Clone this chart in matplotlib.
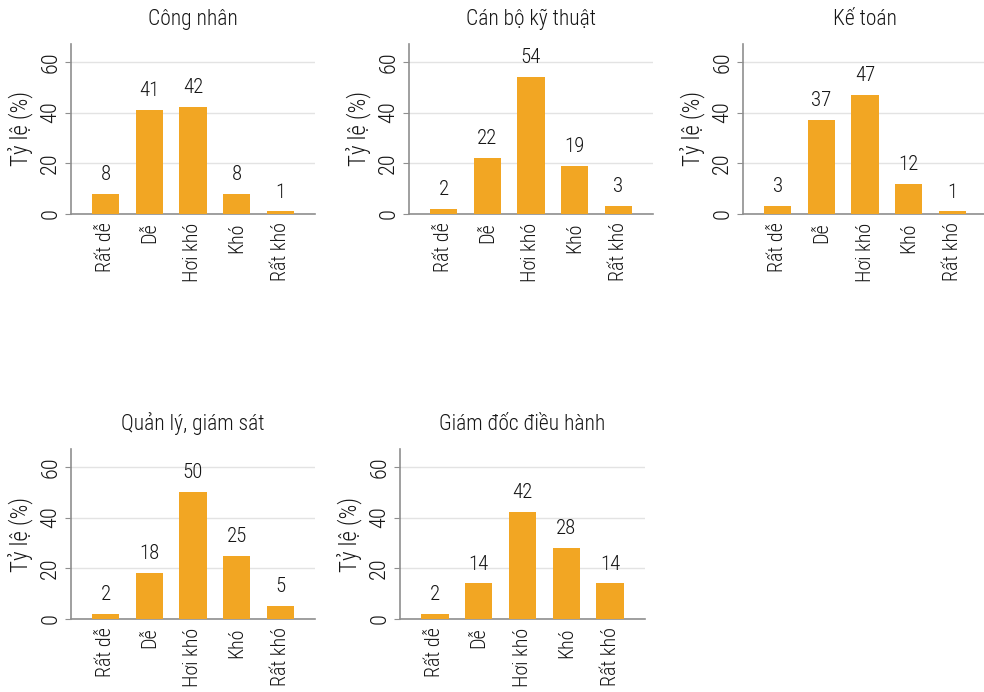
import matplotlib
matplotlib.use("Agg")
import matplotlib.pyplot as plt

plt.rcParams["font.family"] = ["Roboto Condensed", "Liberation Sans Narrow", "Roboto", "DejaVu Sans"]

categories = ["Rất dễ", "Dễ", "Hơi khó", "Khó", "Rất khó"]
titles = ["Công nhân", "Cán bộ kỹ thuật", "Kế toán", "Quản lý, giám sát", "Giám đốc điều hành"]
cong_nhan = [8, 41, 42, 8, 1]
can_bo_ky_thuat = [2, 22, 54, 19, 3]
ke_toan = [3, 37, 47, 12, 1]
quan_ly_giam_sat = [2, 18, 50, 25, 5]
giam_doc_dieu_hanh = [2, 14, 42, 28, 14]
series = [cong_nhan, can_bo_ky_thuat, ke_toan, quan_ly_giam_sat, giam_doc_dieu_hanh]
y_ticks = [0, 20, 40, 60]

W, H = 984, 692
fig = plt.figure(figsize=(W / 100, H / 100), dpi=100)

# panel boxes in pixels: (left, top, right, bottom)
boxes = [
    (71, 44, 315, 214),
    (409, 44, 653, 214),
    (743, 44, 987, 214),
    (71, 449, 315, 619),
    (400, 449, 645, 619),
]

bar_color = "#F2A623"
spine_color = "#8f8f8f"
text_color = "#161616"
wt = "light"

for (l, t, r, b), title, vals in zip(boxes, titles, series):
    ax = fig.add_axes([l / W, 1 - b / H, (r - l) / W, (b - t) / H])
    x = range(len(categories))
    ax.bar(x, vals, width=0.62, color=bar_color, zorder=3)
    for xi, v in zip(x, vals):
        ax.text(xi, v + 5.5, f"{v}", ha="center", va="baseline", fontsize=15,
                color=text_color, fontweight=wt)
    ax.set_xlim(-0.8, 4.8)
    ax.set_ylim(0, 67)
    ax.set_yticks(y_ticks)
    ax.set_yticklabels([str(v) for v in y_ticks], rotation=90, va="center",
                       fontsize=16, color=text_color, fontweight=wt)
    ax.set_xticks(list(x))
    ax.set_xticklabels(categories, rotation=90, fontsize=14.5, color=text_color,
                       fontweight=wt)
    ax.tick_params(axis="x", length=0, pad=6)
    ax.tick_params(axis="y", length=4, color=spine_color, pad=3)
    ax.grid(axis="y", color="#e3e3e3", linewidth=1, zorder=0)
    ax.set_axisbelow(True)
    for s in ("top", "right"):
        ax.spines[s].set_visible(False)
    for s in ("left", "bottom"):
        ax.spines[s].set_color(spine_color)
        ax.spines[s].set_linewidth(1.2)
    ax.set_ylabel("Tỷ lệ (%)", fontsize=16.5, color=text_color, labelpad=5,
                  fontweight=wt)
    ax.set_title(title, fontsize=15.5, color=text_color, pad=13.5, fontweight=wt)

fig.savefig("out.png", dpi=100)
